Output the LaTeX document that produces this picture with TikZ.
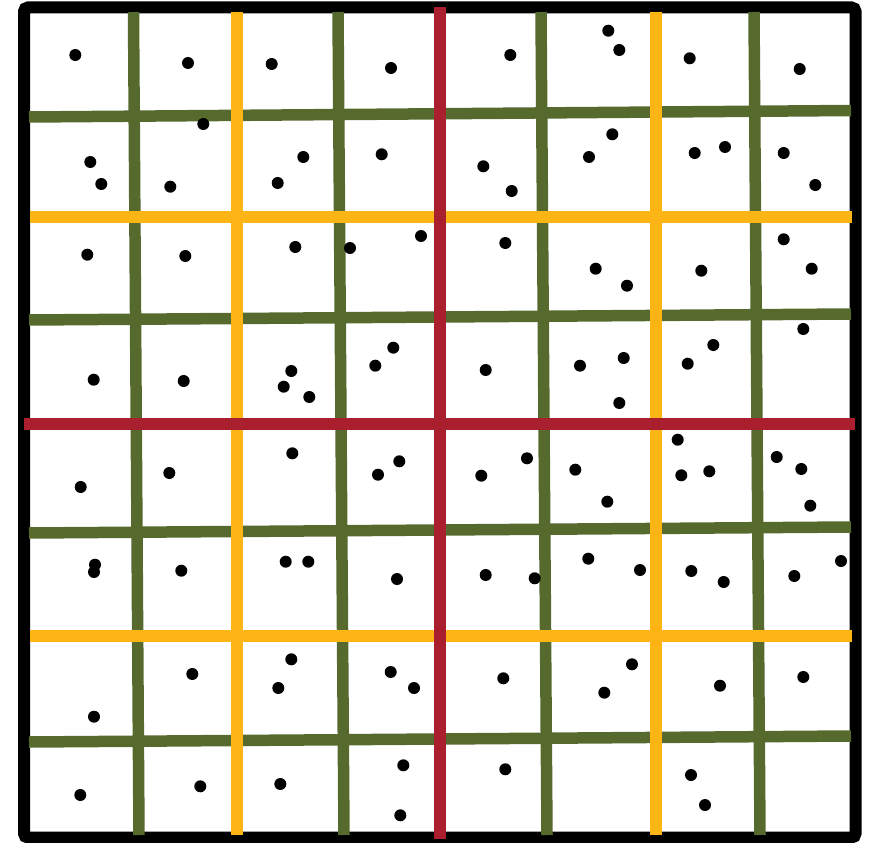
\documentclass[tikz,border=0pt]{standalone}
\usepackage{xcolor}
\usepackage{tikz}
\definecolor{olivegrid}{RGB}{86,106,46}
\definecolor{ambergrid}{RGB}{253,181,21}
\definecolor{crimsongrid}{RGB}{170,31,46}
\tikzset{
  frame/.style={draw=black, line width=12pt, rounded corners=4pt},
  fine/.style={draw=olivegrid, line width=11.5pt},
  mid/.style={draw=ambergrid, line width=12pt},
  coarse/.style={draw=crimsongrid, line width=12pt},
  pt/.style={fill=black, draw=none},
}

\begin{document}
\begin{tikzpicture}[x=1pt, y=-1pt]
\useasboundingbox (0,0) rectangle (876,843);
\draw[frame] (24,7.5) rectangle (855.5,837.5);
% fine level
\foreach \ya/\yb in {117/110.5, 320/314, 533/527, 742/736}
  \draw[fine] (29,\ya) -- (851,\yb);
\foreach \xa/\xb in {133.5/139, 338/344, 541/547, 754/760}
  \draw[fine] (\xa,12) -- (\xb,835);
% middle level
\foreach \y in {217, 635.5}
  \draw[mid] (30,\y) -- (852,\y);
\foreach \x in {237, 655.5}
  \draw[mid] (\x,12) -- (\x,835);
% coarse level
\draw[coarse] (24,423.5) -- (855,423.5);
\draw[coarse] (439.5,7) -- (439.5,839);
% points
\foreach \px/\py in {
  75.3/55, 188/63, 271.7/64, 391/68, 203.3/124, 90.3/162, 101.3/184,
  170.3/186.7, 303.3/157, 277.7/183, 381.7/154.3, 87.3/254.7, 185.3/256,
  295.3/247, 350/248, 421/236, 93.7/379.7, 183.7/381, 291.3/371,
  283.7/386.7, 309.3/397, 393.3/347.7, 375.3/365.7,
  510.3/55, 608.3/30.7, 619.3/50, 689.7/58.3, 799.7/69, 483.3/166.3,
  511.7/191, 612.3/134.3, 589/157, 694.7/153, 725/147, 783.7/153,
  815.3/185, 505.3/243, 595.7/268.7, 627/285.7, 701.3/270.7, 783.7/239.3,
  811.7/268.7, 803.3/329, 485.7/370, 580/365.7, 623.7/358, 619.3/403,
  687.7/363.7, 713.3/345,
  80.7/487, 169.3/473, 292.3/453.3, 399.3/461.3, 378/474.7, 95/564.7,
  94/572, 181.3/570.7, 285.7/561.7, 308.3/561.7, 397/579, 192.3/674,
  291.3/659.3, 278.3/688, 390.7/672, 414/688, 94/716.7, 80.3/795,
  200.3/786.3, 280.3/784, 403.3/765.3, 400.3/815.3,
  481.3/475.7, 527/458.3, 575.3/469.7, 607.3/501.7, 677.7/439.7,
  681.3/475.3, 709.3/471.3, 776.7/457, 801.3/469, 810.3/505.7,
  485.7/575, 534.7/578.3, 588.3/558.7, 640/570, 691.3/571, 723.7/582,
  794.3/576, 841/561, 503.3/678.3, 632/664.3, 604.3/692.7, 720/685.7,
  803.3/677, 505.3/769.3, 691/775, 705/805}
  \fill[pt] (\px,\py) circle (6pt);
\end{tikzpicture}
\end{document}
